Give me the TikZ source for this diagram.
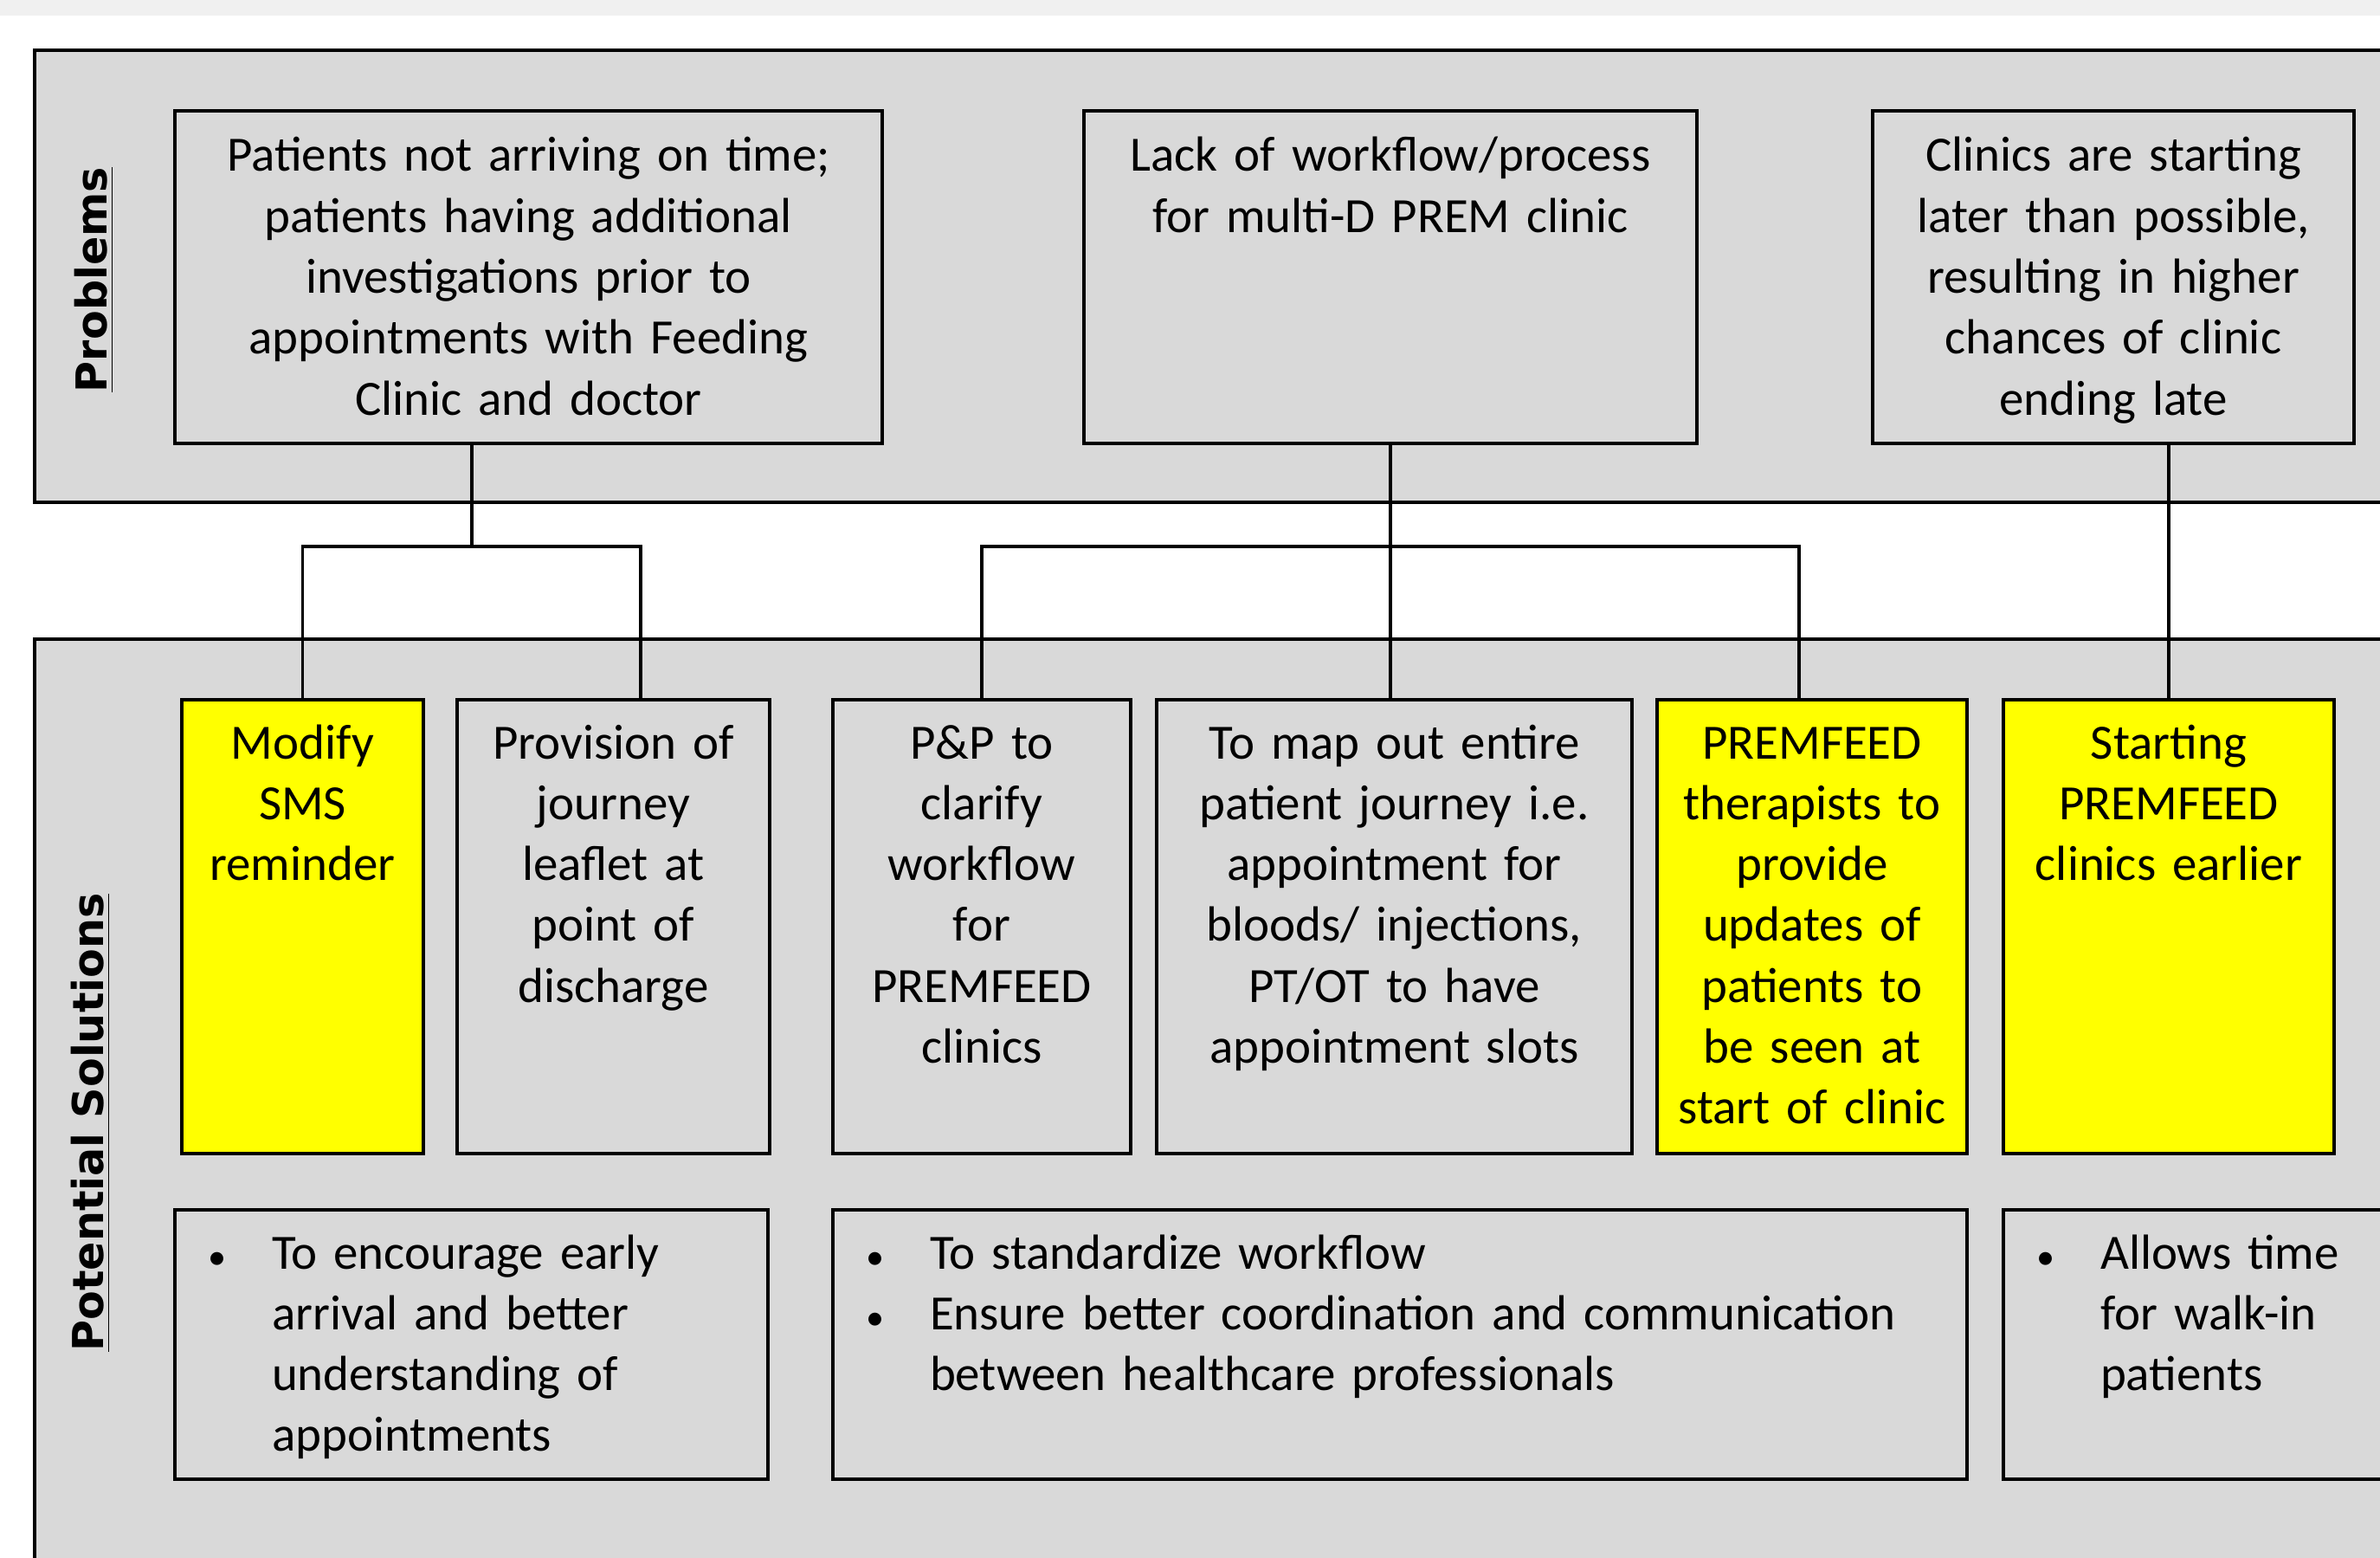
\documentclass[tikz,border=0pt]{standalone}
\usepackage{fontspec}
\setmainfont{Carlito}
\newfontfamily\labelfamily{DejaVu Sans}
\usetikzlibrary{calc,positioning}

\definecolor{panelgray}{HTML}{D9D9D9}
\definecolor{stripgray}{HTML}{F0F0F0}
\definecolor{marker}{HTML}{FFFF00}

\newcommand{\bul}{\makebox[0.74cm][l]{\fontsize{12}{20}\selectfont\textbullet}}
\newcommand{\ind}{\hspace*{0.74cm}}

\tikzset{
  box/.style={draw, line width=1.2pt, fill=panelgray, inner sep=0pt, outer sep=0pt,
    anchor=north west, font=\fontsize{16.2}{20}\selectfont},
  probbox/.style={box, align=center, text width=#1, text height=0.70cm, text depth=3.14cm},
  solbox/.style={box, align=center, text width=#1, text height=0.68cm, text depth=4.56cm},
  notebox/.style={box, align=left, inner xsep=0.38cm, text width=#1, text height=0.68cm, text depth=2.43cm},
  conn/.style={line width=1pt},
  sidelabel/.style={rotate=90, font=\labelfamily\bfseries\fontsize{14}{17}\selectfont},
}

\begin{document}
\begin{tikzpicture}
    \useasboundingbox (0,0) rectangle (27.49,-17.99);
    \clip (0,0) rectangle (27.49,-17.99);
    \fill[stripgray] (0,0) rectangle (27.49,-0.18);
    % panels
    \draw[line width=1.2pt, fill=panelgray] (0.40,-0.58) rectangle (28.2,-5.80);
    \draw[line width=1.2pt, fill=panelgray] (0.40,-7.38) rectangle (28.2,-18.6);
    \node[sidelabel] (problbl) at (1.09,-3.23) {\underline{Problems}};
    \node[sidelabel] (sollbl) at (1.05,-12.96) {\underline{Potential Solutions}};
    % problems
    \node[probbox=8.17cm] (p1) at (2.02,-1.28) {Patients not arriving on time;\\ patients having additional\\ investigations prior to\\ appointments with Feeding\\ Clinic and doctor};
    \node[probbox=7.08cm] (p2) at (12.52,-1.28) {Lack of workflow/process\\ for multi-D PREM clinic};
    \node[probbox=5.56cm] (p3) at (21.63,-1.28) {Clinics are starting\\ later than possible,\\ resulting in higher\\ chances of clinic\\ ending late};
    % solutions
    \node[solbox=2.79cm, fill=marker] (s1) at (2.10,-8.08) {Modify\\ SMS\\ reminder};
    \node[solbox=3.61cm] (s2) at (5.28,-8.08) {Provision of\\ journey\\ leaflet at\\ point of\\ discharge};
    \node[solbox=3.44cm] (s3) at (9.62,-8.08) {P\&P to\\ clarify\\ workflow\\ for\\ PREMFEED\\ clinics};
    \node[solbox=5.49cm] (s4) at (13.36,-8.08) {To map out entire\\ patient journey i.e.\\ appointment for\\ bloods/ injections,\\ PT/OT to have\\ appointment slots};
    \node[solbox=3.58cm, fill=marker] (s5) at (19.14,-8.08) {PREMFEED\\ therapists to\\ provide\\ updates of\\ patients to\\ be seen at\\ start of clinic};
    \node[solbox=3.82cm, fill=marker] (s6) at (23.14,-8.08) {Starting\\ PREMFEED\\ clinics earlier};
    % notes
    \node[notebox=6.09cm] (b1) at (2.02,-13.97) {\bul To encourage early\\ \ind arrival and better\\ \ind understanding of\\ \ind appointments};
    \node[notebox=12.34cm] (b2) at (9.62,-13.97) {\bul To standardize workflow\\ \bul Ensure better coordination and communication\\ \ind between healthcare professionals};
    \node[notebox=4.24cm] (b3) at (23.14,-13.97) {\bul Allows time\\ \ind for walk-in\\ \ind patients};
    % connectors
    \coordinate (p1b) at ($(p1.south west)!0.42!(p1.south east)$);
    \coordinate (j1) at ($(p1b)+(0,-1.19)$);
    \coordinate (j2) at ($(p2.south)+(0,-1.19)$);
    \draw[conn] (p1b) -- (j1);
    \draw[conn] (s1.north) |- (j1) -| ($(s2.north west)!0.587!(s2.north east)$);
    \draw[conn] (p2.south) -- (p2.south |- s4.north);
    \draw[conn] (s3.north) |- (j2) -| ($(s5.north west)!0.458!(s5.north east)$);
    \draw[conn] (s6.north) -- (s6.north |- p3.south);
\end{tikzpicture}
\end{document}
